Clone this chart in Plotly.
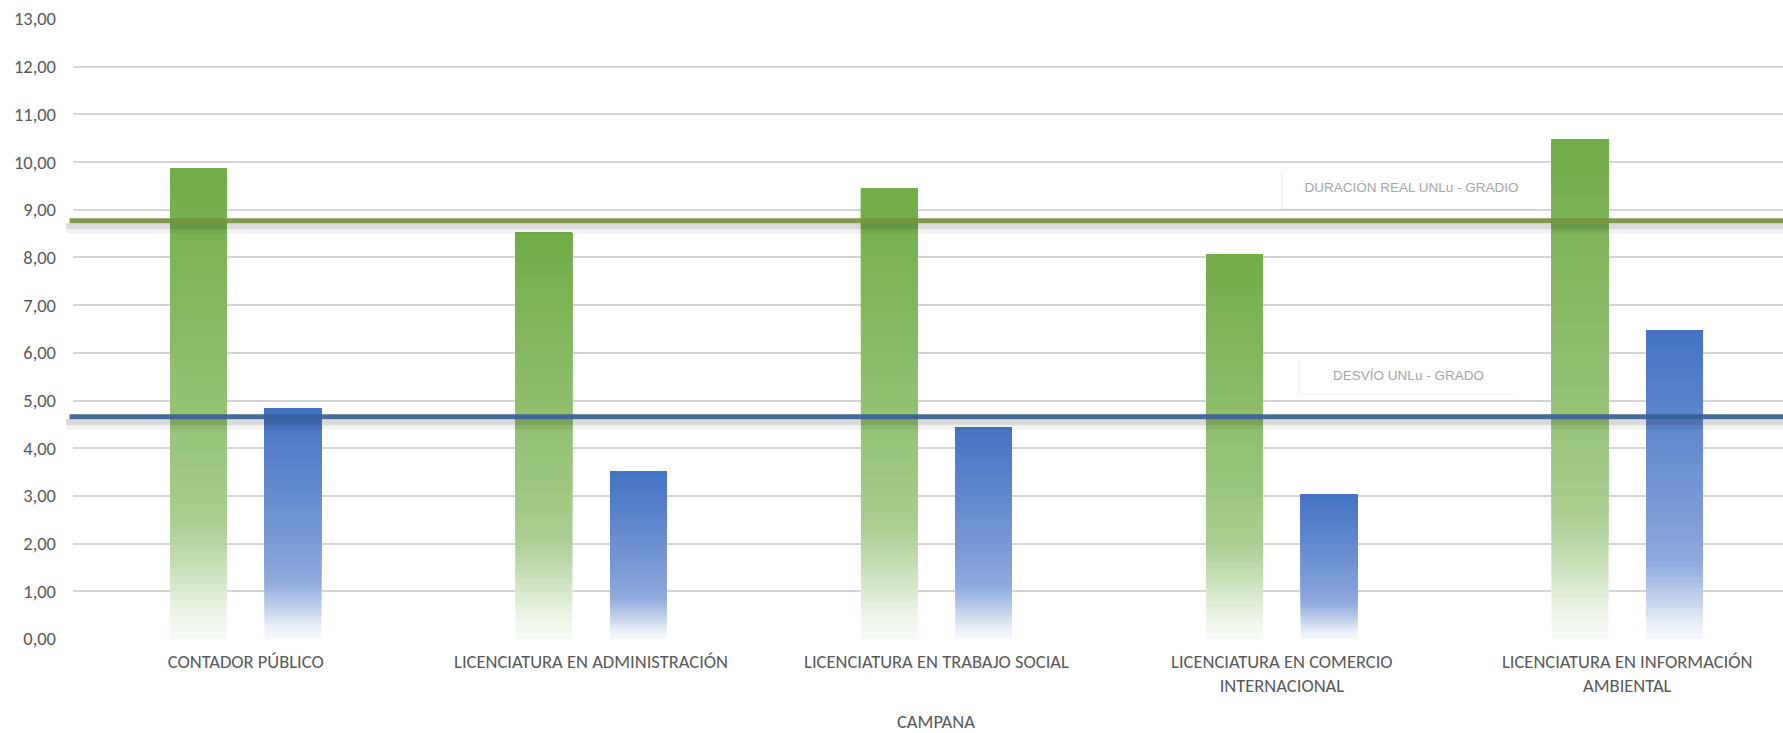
import numpy as np
import plotly.graph_objects as go

# ---------------- data ----------------
categories = [
    "CONTADOR PÚBLICO",
    "LICENCIATURA EN ADMINISTRACIÓN",
    "LICENCIATURA EN TRABAJO SOCIAL",
    "LICENCIATURA EN COMERCIO<br>INTERNACIONAL",
    "LICENCIATURA EN INFORMACIÓN<br>AMBIENTAL",
]
duracion = [9.86, 8.52, 9.44, 8.06, 10.47]
desvio = [4.84, 3.51, 4.44, 3.03, 6.47]
duracion_unlu = 8.77
desvio_unlu = 4.66
label_duracion = "DURACIÓN REAL UNLu - GRADIO"
label_desvio = "DESVÍO UNLu - GRADO"
axis_title = "CAMPANA"
y_ticks = list(range(0, 14))

# ---------------- style ----------------
GREEN = (112, 173, 71)
BLUE = (68, 114, 196)
GREEN_LINE = "#76923C"
BLUE_LINE = "#36609A"
TICK_FONT = dict(family="Calibri, Carlito, Lato, sans-serif", size=18.5, color="#595959")
LABEL_FONT = dict(family="Arial, Liberation Sans, sans-serif", size=13.5, color="#A6A6A6")

# gradient: fraction of the base colour (vs white) along the bar height
t_stops = [0.0, 0.05, 0.10, 0.17, 0.25, 0.40, 0.65, 1.0]
a_stops = [0.05, 0.12, 0.25, 0.42, 0.60, 0.70, 0.83, 1.0]
N_SEG = 60


def mix(base, a):
    r, g, b = (int(round(255 * (1 - a) + c * a)) for c in base)
    return f"rgb({r},{g},{b})"


fig = go.Figure()

# each segment runs from its start up to the bar's value; later segments
# cover the upper part of earlier ones, giving a seamless vertical gradient
for values, base_col, grp in [(duracion, GREEN, "dur"), (desvio, BLUE, "desv")]:
    vals = np.array(values, dtype=float)
    for k in range(N_SEG):
        t_mid = (k + 0.5) / N_SEG
        a = float(np.interp(t_mid, t_stops, a_stops))
        start = vals * k / N_SEG
        fig.add_trace(
            go.Bar(
                x=categories,
                y=vals - start,
                base=start,
                offsetgroup=grp,
                marker=dict(color=mix(base_col, a), line=dict(width=0)),
                showlegend=False,
                hoverinfo="skip",
            )
        )

shapes = []
# reference lines with soft shadow
for val, col in [(duracion_unlu, GREEN_LINE), (desvio_unlu, BLUE_LINE)]:
    shapes.append(dict(type="rect", xref="paper", x0=-0.004, x1=1, yref="y",
                       ysizemode="pixel", yanchor=val, y0=-2.5, y1=-8.5,
                       fillcolor="rgba(0,0,0,0.15)", line=dict(width=0), layer="above"))
    shapes.append(dict(type="rect", xref="paper", x0=-0.004, x1=1, yref="y",
                       ysizemode="pixel", yanchor=val, y0=-8.5, y1=-13,
                       fillcolor="rgba(0,0,0,0.05)", line=dict(width=0), layer="above"))
    shapes.append(dict(type="line", xref="paper", x0=-0.002, x1=1, yref="y",
                       y0=val, y1=val, line=dict(color=col, width=5),
                       opacity=0.92, layer="above"))

# label boxes (position, size)
boxes = [
    (label_duracion, 0.7827, 9.48, 255, 40),
    (label_desvio, 0.7810, 5.54, 215, 34),
]
annotations = []
for text, xp, yv, w, h in boxes:
    dx = 3 / 1710
    shapes.append(dict(type="rect", xref="paper", x0=xp - (w / 2) / 1710 - dx,
                       x1=xp + (w / 2) / 1710 - dx, yref="y", ysizemode="pixel",
                       yanchor=yv, y0=-h / 2 - 3, y1=h / 2 - 3,
                       fillcolor="rgba(0,0,0,0.05)", line=dict(width=0), layer="above"))
    annotations.append(dict(text=text, xref="paper", x=xp, yref="y", y=yv,
                            showarrow=False, width=w, height=h, bgcolor="white",
                            font=LABEL_FONT, xanchor="center", yanchor="middle"))

annotations.append(dict(text=axis_title, xref="x", x=categories[2], yref="paper",
                        y=-0.133, showarrow=False, font=TICK_FONT,
                        xanchor="center", yanchor="middle"))

fig.update_layout(
    width=1783,
    height=733,
    margin=dict(l=73, r=0, t=19, b=94),
    paper_bgcolor="white",
    plot_bgcolor="white",
    barmode="group",
    bargap=0.453,
    bargroupgap=0.402,
    separators=",.",
    shapes=shapes,
    annotations=annotations,
    showlegend=False,
)
fig.update_xaxes(
    type="category",
    range=[-0.5, 4.451],
    showgrid=False,
    showline=False,
    ticks="",
    tickfont=TICK_FONT,
    ticklabelstandoff=9,
)
fig.update_yaxes(
    range=[0, 13],
    tickvals=y_ticks,
    tickformat=".2f",
    showgrid=True,
    gridcolor="#D5D5D5",
    gridwidth=1.5,
    zeroline=False,
    showline=False,
    ticks="",
    tickfont=TICK_FONT,
    ticklabelstandoff=16,
)

fig.write_html(
    "out.html",
    config={"displayModeBar": False},
    post_script="document.body.style.margin='0';document.body.style.overflow='hidden';",
)
